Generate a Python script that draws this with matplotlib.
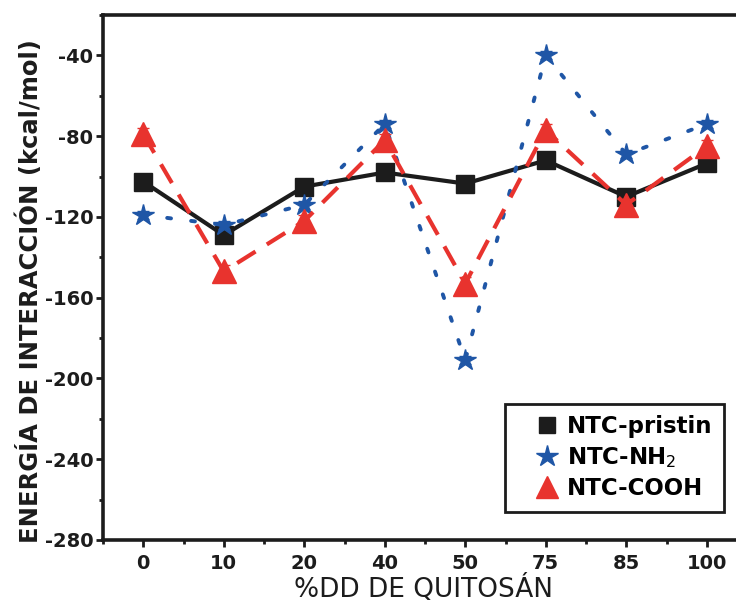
import matplotlib
matplotlib.use("Agg")
import matplotlib.pyplot as plt
from matplotlib.lines import Line2D
from matplotlib.legend_handler import HandlerLine2D

plt.rcParams["font.family"] = ["DejaVu Sans"]
plt.rcParams["mathtext.fontset"] = "dejavusans"
plt.rcParams["axes.unicode_minus"] = False

# Degree of deacetylation of chitosan (categorical axis)
categories = ["0", "10", "20", "40", "50", "75", "85", "100"]

# Interaction energies (kcal/mol)
pristin = [-102.5, -129, -105, -98, -103.5, -92, -110, -93.5]
nh2 = [-119, -124, -114, -74, -191, -40, -89, -74]
cooh = [-79, -147, -122, -82, -153, -77, -114, -85]

# Standard deviations
err_pristin = [2, 2, 2, 2, 2, 2, 4, 2]
err_nh2 = [2, 2, 2, 2, 2, 2, 2, 2]
err_cooh = [3, 3, 3, 3, 3, 3, 3, 3]

labels = ["NTC-pristin", r"NTC-NH$_{\mathrm{2}}$", "NTC-COOH"]

BLACK = "#1c1c1c"
BLUE = "#1f56a6"
RED = "#e8332e"

fig = plt.figure(figsize=(7.36, 6.07), dpi=100)
ax = fig.add_axes([103 / 736, 67 / 607, 644 / 736, 525 / 607])

x = list(range(len(categories)))

# NTC-pristin: solid black with squares
ax.errorbar(x, pristin, yerr=err_pristin, fmt="none", ecolor=BLACK,
            elinewidth=1, capsize=4, capthick=1, zorder=2)
ax.plot(x, pristin, color=BLACK, lw=3, marker="s", ms=12.5,
        solid_joinstyle="round", zorder=3)

# NTC-NH2: dotted blue with stars
ax.errorbar(x, nh2, yerr=err_nh2, fmt="none", ecolor=BLUE,
            elinewidth=1, capsize=4, capthick=1, zorder=4)
ax.plot(x, nh2, color=BLUE, lw=2.8, linestyle=(0, (1.0, 5.2)),
        dash_capstyle="round", marker="*", ms=16, zorder=5)

# NTC-COOH: dashed red with triangles
ax.errorbar(x, cooh, yerr=err_cooh, fmt="none", ecolor=RED,
            elinewidth=1, capsize=4, capthick=1, zorder=6)
ax.plot(x, cooh, color=RED, lw=3, linestyle=(0, (5.2, 3.2)),
        marker="^", ms=17, zorder=7)

ax.set_xlim(-0.5, 7.5)
ax.set_ylim(-280, -20)

ax.set_xticks(x)
ax.set_xticklabels(categories)
ax.set_xticks([i + 0.5 for i in range(-1, 8)], minor=True)
ax.set_yticks(list(range(-280, -39, 40)))
ax.set_yticks(list(range(-260, -19, 40)), minor=True)

ax.tick_params(which="major", direction="out", length=5, width=2,
               labelsize=14, pad=2, colors=BLACK)
ax.tick_params(which="minor", direction="out", length=3, width=2,
               colors=BLACK)
ax.tick_params(axis="x", which="major", pad=5)
for lbl in ax.get_xticklabels() + ax.get_yticklabels():
    lbl.set_fontweight("bold")

for side in ["top", "bottom", "left", "right"]:
    ax.spines[side].set_linewidth(2.6)
    ax.spines[side].set_color(BLACK)

fig.text(424 / 736, 1 - 597 / 607, "%DD DE QUITOSÁN", fontsize=19,
         ha="center", va="baseline", color=BLACK)
fig.text(30 / 736, 1 - 291 / 607, "ENERGÍA DE INTERACCIÓN (kcal/mol)",
         fontsize=17.5, fontweight="bold", rotation=90,
         ha="center", va="center", color=BLACK)

handles = [
    Line2D([], [], linestyle="none", marker="s", color=BLACK, ms=11),
    Line2D([], [], linestyle="none", marker="*", color=BLUE, ms=16),
    Line2D([], [], linestyle="none", marker="^", color=RED, ms=16),
]
leg = ax.legend(handles, labels, loc="upper left",
                bbox_to_anchor=(505 / 736, 1 - 404 / 607),
                bbox_transform=fig.transFigure, borderaxespad=0,
                frameon=True, fancybox=False, framealpha=1,
                edgecolor=BLACK, borderpad=0.5, handlelength=2.0,
                handletextpad=0.2, labelspacing=0.3,
                prop={"weight": "bold", "size": 16.5},
                handler_map={Line2D: HandlerLine2D(numpoints=1, xpad=0.7)})
leg.get_frame().set_linewidth(2)

fig.savefig("out.png", dpi=100)
